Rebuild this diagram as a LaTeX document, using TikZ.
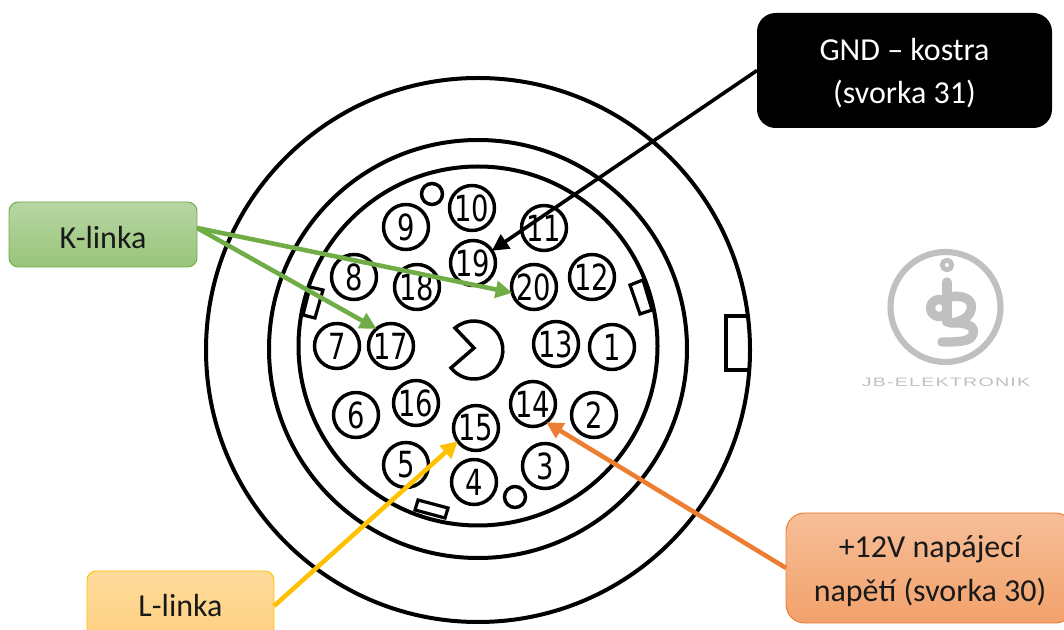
\documentclass[tikz,border=0pt]{standalone}
\usepackage{fontspec}
\usetikzlibrary{arrows.meta}
\newfontfamily\boxfont{Carlito}
\newfontfamily\pinfont[FakeStretch=0.76]{DejaVu Sans}
\newfontfamily\logofont[FakeStretch=1.6,LetterSpace=10]{Liberation Sans}
\definecolor{kedge}{HTML}{70AD47}
\definecolor{ledge}{HTML}{FFC000}
\definecolor{vedge}{HTML}{ED7D31}
\definecolor{ltop}{HTML}{FDDB9B}
\definecolor{lbot}{HTML}{FFD080}
\definecolor{logogray}{HTML}{C0C0C0}
\newcommand{\lowline}{\rule{0pt}{21pt}}
\tikzset{
  ring/.style={draw=black,line width=3pt},
  notch/.style={draw=black,line width=2.4pt,line join=miter},
  pin/.style={circle,draw=black,line width=2.6pt,minimum size=33.75pt,inner sep=0pt,outer sep=0pt,font=\pinfont\fontsize{27}{27}\selectfont},
  hole/.style={draw=black,line width=2.6pt},
  callout/.style={rectangle,inner sep=0pt,outer sep=0pt,align=center,font=\boxfont\fontsize{24}{32.5}\selectfont,text=black!90},
  wire/.style={line width=#1,-{Triangle[length=12.5pt,width=12.5pt]}},
  logo/.style={draw=logogray,line cap=round,line join=round},
}
\begin{document}
\begin{tikzpicture}[x=0.75pt,y=-0.75pt]
\useasboundingbox (0,0) rectangle (1064,630);
\clip (0,0) rectangle (1064,630);
\fill[white] (0,0) rectangle (1064,630);
% rings
\draw[ring] (478,350) circle[radius=272];
\draw[ring] (478,349) circle[radius=209];
\draw[ring] (478,346) circle[radius=179.5];
% notches
\draw[notch] (746,316) -- (726,316) -- (726,370) -- (748,370);
\draw[notch] (310,287) -- (323,290) -- (315,318) -- (303,315) -- cycle;
\draw[notch] (630,285) -- (643,280) -- (652,310) -- (640,314) -- cycle;
\draw[notch] (418,500) -- (448,508) -- (445,518) -- (415,510) -- cycle;
% key
\draw[ring,line width=2.6pt,line join=miter] (455,328) arc[start angle=-130.6,end angle=142,radius=29] -- (474,348) -- cycle;
% small holes
\draw[hole] (432,194) circle[radius=10.5];
\draw[hole] (515,497) circle[radius=10.5];
% pins
\node[pin] (p1) at (612,347) {1};
\node[pin] (p2) at (594,415) {2};
\node[pin] (p3) at (545,466) {3};
\node[pin] (p4) at (474,482) {4};
\node[pin] (p5) at (406,465) {5};
\node[pin] (p6) at (356,415) {6};
\node[pin] (p7) at (337,346) {7};
\node[pin] (p8) at (354,277) {8};
\node[pin] (p9) at (406,227) {9};
\node[pin] (p10) at (472,208) {10};
\node[pin] (p11) at (544,228) {11};
\node[pin] (p12) at (592,277) {12};
\node[pin] (p13) at (556,344) {13};
\node[pin] (p14) at (533,404) {14};
\node[pin] (p15) at (476,428) {15};
\node[pin] (p16) at (416,403) {16};
\node[pin] (p17) at (391,346) {17};
\node[pin] (p18) at (417,287) {18};
\node[pin] (p19) at (473,263) {19};
\node[pin] (p20) at (534,287) {20};
% callouts
\node[callout,minimum width=141pt,minimum height=48.75pt,rounded corners=7pt,draw=kedge,line width=0.7pt,top color=kedge!50!white,bottom color=kedge!72!white] (k) at (103,234.5) {\lowline K-linka};
\node[callout,minimum width=140.25pt,minimum height=52.5pt,rounded corners=7pt,draw=ledge,line width=0.7pt,top color=ltop,bottom color=lbot] (l) at (180.5,606) {L-linka};
\node[callout,minimum width=221.25pt,minimum height=86.25pt,rounded corners=14pt,fill=black,text=white] (g) at (904.5,70.5) {\lowline GND – kostra\\(svorka 31)};
\node[callout,minimum width=216pt,minimum height=82.5pt,rounded corners=14pt,draw=vedge,line width=0.7pt,top color=vedge!50!white,bottom color=vedge!72!white] (v) at (930,568) {\lowline +12V napájecí\\napětí (svorka 30)};
% connectors
\draw[wire=2.7pt,black] (g.west) -- (p19.33);
\draw[wire=3.4pt,kedge] (k.4) -- (p20.195);
\draw[wire=3.4pt,kedge] (k.4) -- (p17.130);
\draw[wire=3.4pt,ledge] (l.east) -- (p15.216);
\draw[wire=3.4pt,vedge] (v.west) -- (p14.306);
% logo
\draw[logo,line width=4.6pt] (945.5,307) circle[radius=55];
\draw[logo,line width=3.6pt] (947,265) circle[radius=4.8];
\draw[logo,line width=7pt] (947,282) -- (947,322);
\draw[logo,line width=7pt] (939,308) circle[radius=8.5];
\draw[logo,line width=7pt] (945,298) .. controls (964,293) and (974,300) .. (971,310) .. controls (969,318) and (960,322) .. (950,323) .. controls (966,322) and (976,326) .. (973,334) .. controls (971,342) and (958,342) .. (942,342);
\node[text=logogray,inner sep=0pt,font=\logofont\fontsize{9.2}{10}\selectfont] (t) at (946,382.5) {JB-ELEKTRONIK};
\end{tikzpicture}
\end{document}
